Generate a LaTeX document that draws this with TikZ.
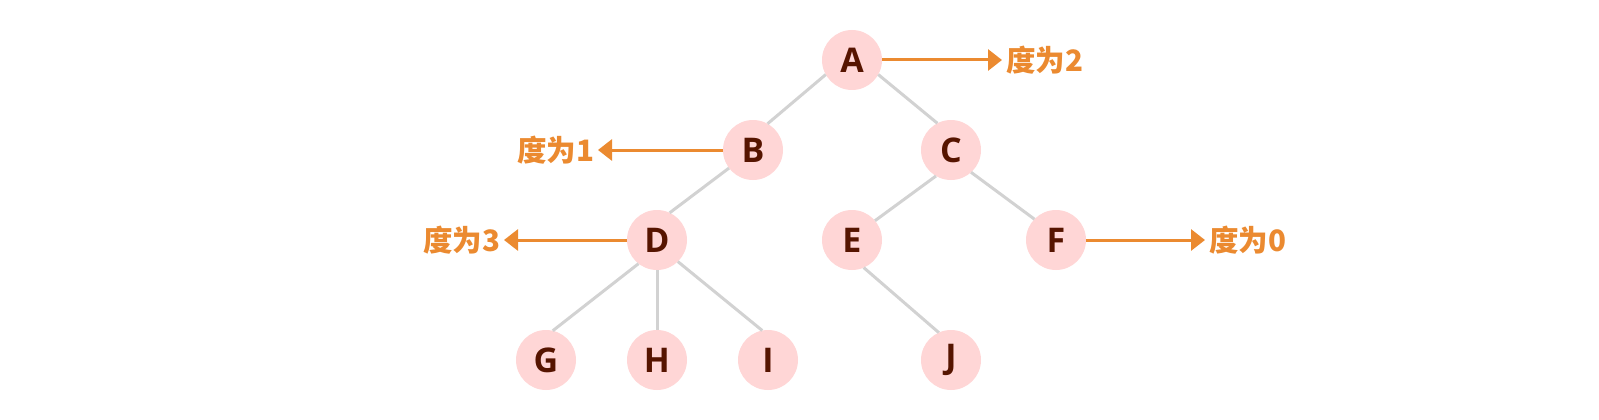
\documentclass[tikz,border=0pt]{standalone}
\usepackage{fontspec}
\setmainfont{Open Sans}
\newfontfamily\cjk{Noto Sans CJK SC}
\usetikzlibrary{positioning, arrows.meta}

\definecolor{nodepink}{HTML}{FFD6D6}
\definecolor{letterbrown}{HTML}{561400}
\definecolor{edgegrey}{HTML}{D2D2D2}
\definecolor{degorange}{HTML}{EB8A30}

\begin{document}
\begin{tikzpicture}[
		x=1pt, y=-1pt,
		vertex/.style={circle, fill=nodepink, minimum size=60pt, inner sep=0pt, outer sep=0pt,
				text=letterbrown, font=\fontsize{34}{34}\selectfont\bfseries},
		deg/.style={inner sep=4pt, outer sep=0pt, text=degorange,
				font=\cjk\fontsize{29.5}{29.5}\selectfont\bfseries},
		edge/.style={draw=edgegrey, line width=3pt},
		degarr/.style={-{Triangle[length=14pt, width=21pt]}, line width=3pt, draw=degorange, color=degorange},
		on grid,
	]
	\useasboundingbox (0,0) rectangle (1599,420);

	% tree
	\node[vertex] (A) at (852,60) {A};
	\node[vertex, below=90pt of A, xshift=-99pt] (B) {B};
	\node[vertex, below=90pt of A, xshift=99pt]  (C) {C};
	\node[vertex, below=90pt of B, xshift=-96pt] (D) {D};
	\node[vertex, below=90pt of C, xshift=-99pt] (E) {E};
	\node[vertex, below=90pt of C, xshift=105pt] (F) {F};
	\node[vertex, below=120pt of D, xshift=-111pt] (G) {G};
	\node[vertex, below=120pt of D]                (H) {H};
	\node[vertex, below=120pt of D, xshift=111pt]  (I) {I};
	\node[vertex, below=120pt of E, xshift=99pt]   (J) {J};

	% edges
	\draw[edge] (A.209) -- (B.61);
	\draw[edge] (A.331) -- (C.117);
	\draw[edge] (B.217) -- (D.65);
	\draw[edge] (C.240) -- (E.40);
	\draw[edge] (C.312) -- (F.136);
	\draw[edge] (D.232) -- (G.77);
	\draw[edge] (D) -- (H);
	\draw[edge] (D.314) -- (I.101);
	\draw[edge] (E.293) -- (J.114);

	% degree labels
	\node[deg, anchor=west] (degA) at ([xshift=120pt]A.east) {度为2};
	\node[deg, anchor=east] (degB) at ([xshift=-125pt]B.west) {度为1};
	\node[deg, anchor=east] (degD) at ([xshift=-123pt]D.west) {度为3};
	\node[deg, anchor=west] (degF) at ([xshift=119pt]F.east) {度为0};

	\draw[degarr] (A) -- (degA);
	\draw[degarr] (B) -- (degB);
	\draw[degarr] (D) -- (degD);
	\draw[degarr] (F) -- (degF);
\end{tikzpicture}
\end{document}
